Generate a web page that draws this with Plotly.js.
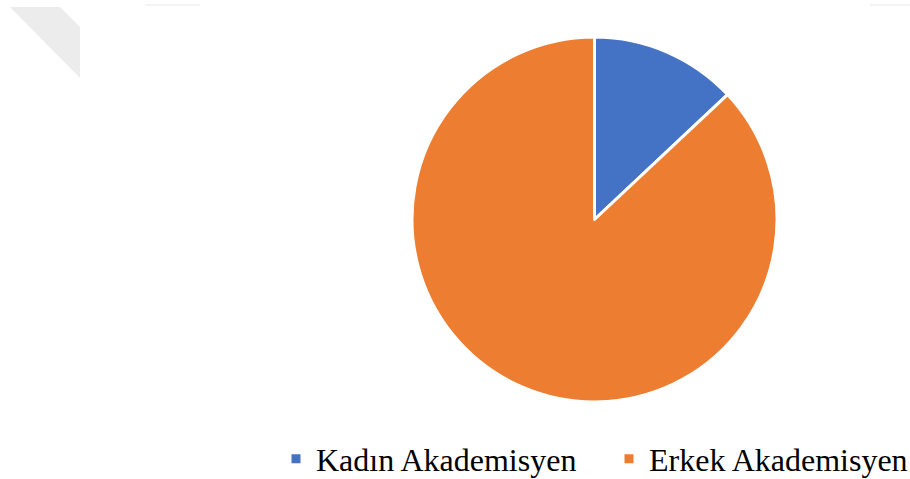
<!DOCTYPE html>
<html>
<head>
<meta charset="utf-8">
<script src="https://cdn.plot.ly/plotly-3.0.1.min.js"></script>
<style>html,body{margin:0;padding:0;background:#fff;}#chart{width:910px;height:479px;}</style>
</head>
<body>
<div id="chart"></div>
<script>
var categories = ["Kadın Akademisyen", "Erkek Akademisyen"];
var values = [13, 87];
var colors = ["#4472C4", "#ED7D31"];

var W = 910, H = 479;
function px(x){return x / W;}
function py(y){return 1 - y / H;}

var cx = 594.5, cy = 219.5, r = 182.5;

var data = [{
  type: "pie",
  labels: categories,
  values: values,
  sort: false,
  direction: "clockwise",
  rotation: 0,
  textinfo: "none",
  hoverinfo: "label+percent",
  marker: {colors: colors, line: {color: "#ffffff", width: 3}},
  domain: {x: [px(cx - r), px(cx + r)], y: [py(cy + r), py(cy - r)]}
}];

var layout = {
  width: W, height: H,
  margin: {l: 0, r: 0, t: 0, b: 0, autoexpand: false},
  paper_bgcolor: "#ffffff",
  showlegend: true,
  legend: {
    orientation: "h",
    x: px(276), xanchor: "left",
    y: py(459), yanchor: "middle",
    entrywidth: 288, entrywidthmode: "pixels",
    font: {family: "'Liberation Serif', 'Times New Roman', serif", size: 32, color: "#000000"},
    bgcolor: "rgba(0,0,0,0)"
  },
  shapes: [
    {type: "path", xref: "paper", yref: "paper",
     path: "M " + px(10) + "," + py(7) + " L " + px(60) + "," + py(7) + " L " + px(80) + "," + py(27) + " L " + px(80) + "," + py(78) + " Z",
     fillcolor: "#ececec", line: {width: 0}, layer: "below"},
    {type: "line", xref: "paper", yref: "paper", x0: px(145), x1: px(200), y0: py(5), y1: py(5),
     line: {color: "#f4f4f4", width: 2}},
    {type: "line", xref: "paper", yref: "paper", x0: px(870), x1: px(910), y0: py(5), y1: py(5),
     line: {color: "#f4f4f4", width: 2}}
  ]
};

Plotly.newPlot("chart", data, layout, {displayModeBar: false, staticPlot: true});
</script>
</body>
</html>
